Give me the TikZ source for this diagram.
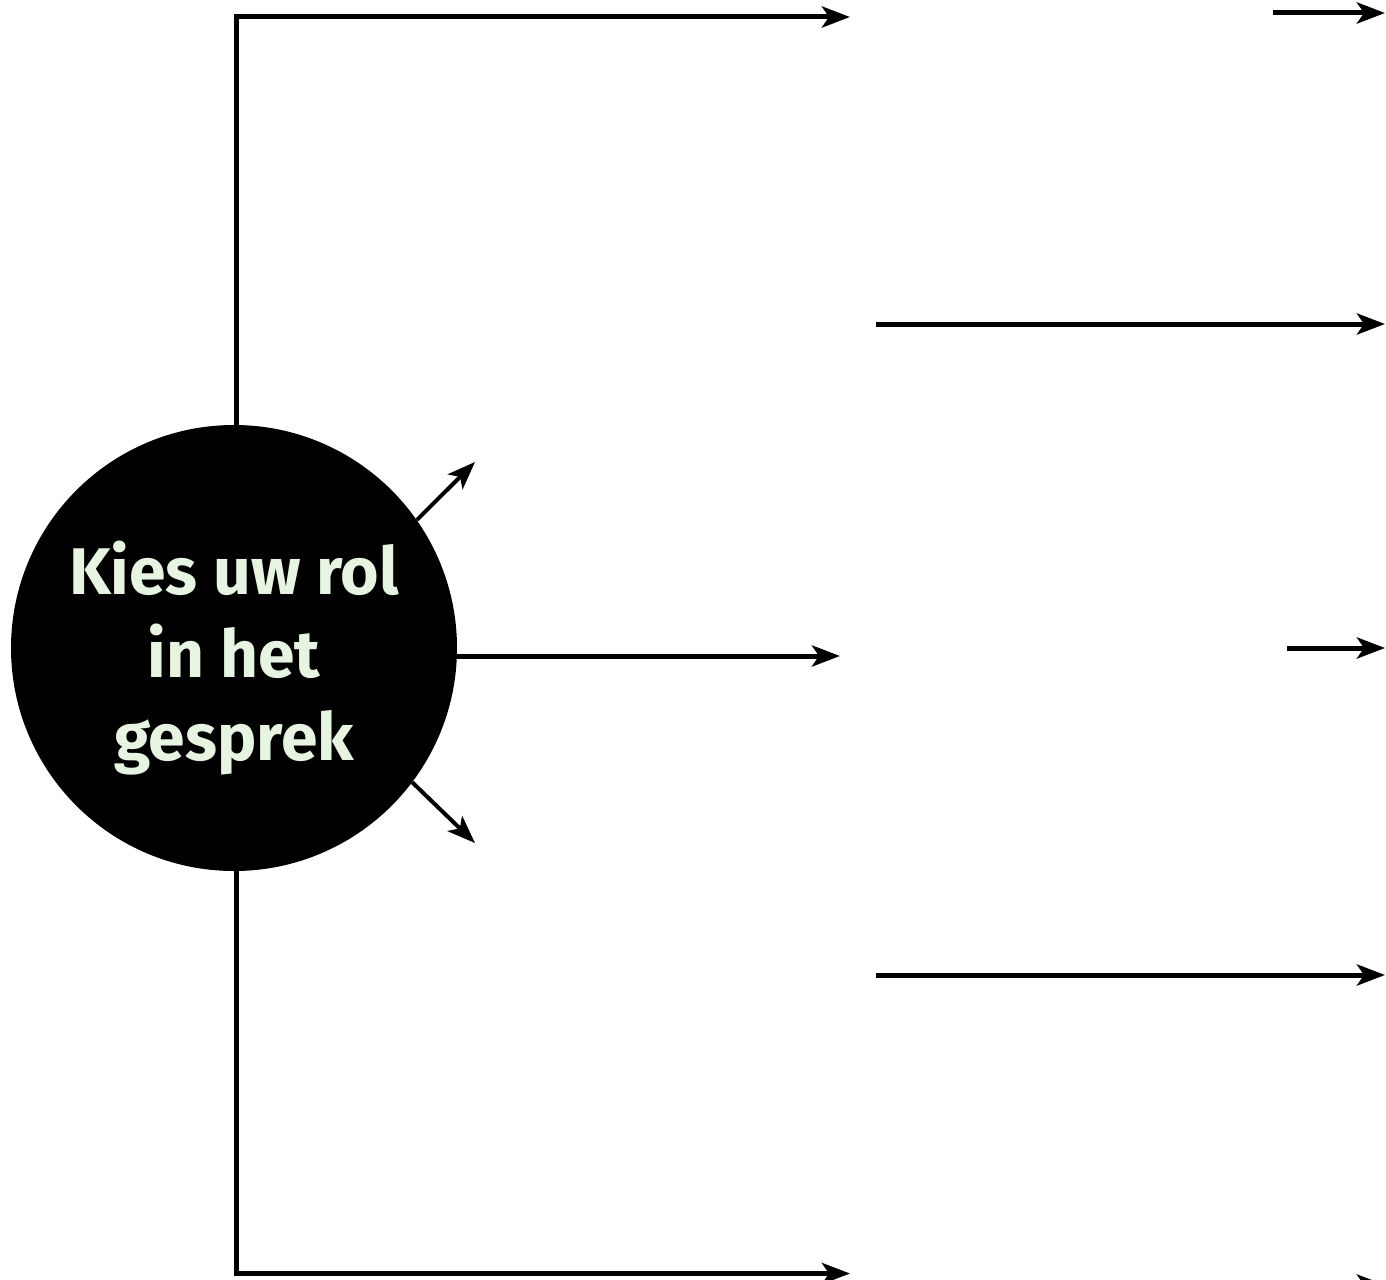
\documentclass[tikz,border=0pt]{standalone}
\usepackage{fontspec}
\setmainfont{Fira Sans}
\usetikzlibrary{arrows.meta}
\definecolor{txtgreen}{HTML}{E6F4E1}
\begin{document}
\begin{tikzpicture}[x=1pt,y=-1pt,
  conn/.style={line width=5pt,-{Stealth[length=28pt,width=21pt,inset=7pt]}},
  hub/.style={circle,fill=black,minimum size=446pt,inner sep=0pt},
  hubtext/.style={text=txtgreen,font=\fontsize{66}{83}\selectfont\bfseries,align=center,inner sep=0pt}]
\useasboundingbox (0,0) rectangle (1386,1279);
\clip (0,0) rectangle (1386,1279);
\node[hub] (c) at (234,648) {};
\node[hubtext] (t) at ([yshift=-10pt]c.center) {Kies uw rol\\in het\\gesprek};
% top branch
\coordinate (tc) at (236,17);
\coordinate (te) at (850,17);
\draw[conn] (c.north -| tc) |- (te);
% bottom branch
\coordinate (bc) at (236,1273.5);
\coordinate (be) at (850,1273.5);
\draw[conn] (c.south -| bc) |- (be);
% middle
\coordinate (me) at (840,656);
\draw[conn] (c.east |- me) -- (me);
% diagonals
\coordinate (d1) at (475,462);
\coordinate (d2) at (475,843);
\draw[conn,line width=4pt] (c.35) -- (d1);
\draw[conn,line width=4pt] (c.-37) -- (d2);
% right side arrows
\coordinate (r1s) at (1273,13); \coordinate (r1e) at (1385,13);
\coordinate (r2s) at (876,324); \coordinate (r2e) at (1385,324);
\coordinate (r3s) at (1287,648); \coordinate (r3e) at (1385,648);
\coordinate (r4s) at (876,975); \coordinate (r4e) at (1385,975);
\coordinate (r5s) at (1300,1285); \coordinate (r5e) at (1385,1285);
\draw[conn] (r1s) -- (r1e);
\draw[conn] (r2s) -- (r2e);
\draw[conn] (r3s) -- (r3e);
\draw[conn] (r4s) -- (r4e);
\draw[conn] (r5s) -- (r5e);
\end{tikzpicture}
\end{document}
